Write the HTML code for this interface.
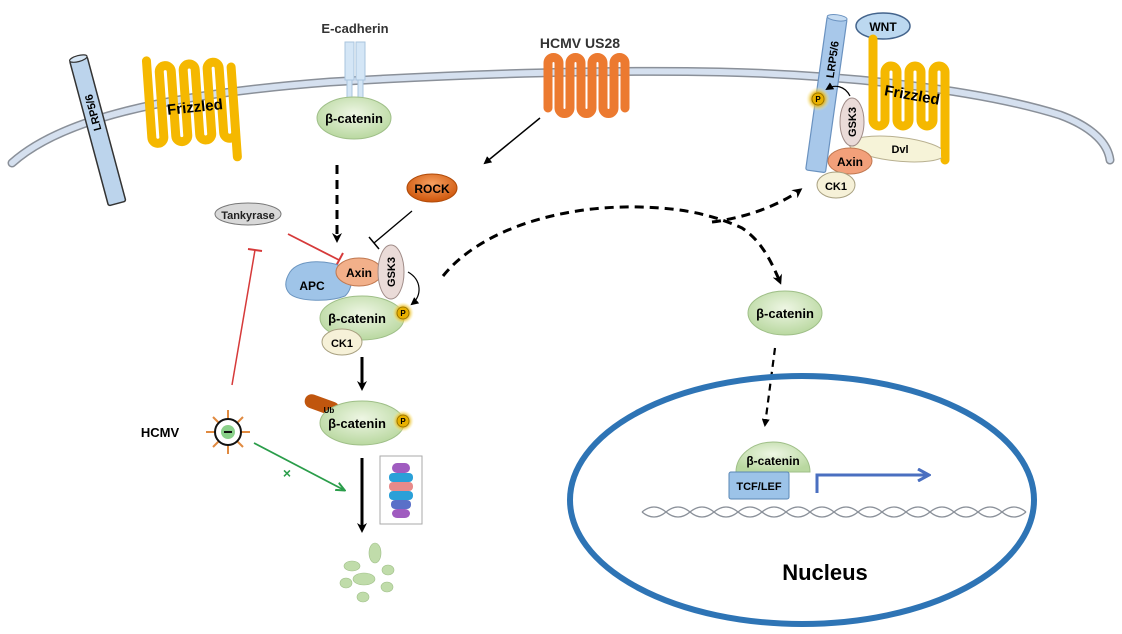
<!DOCTYPE html>
<html><head><meta charset="utf-8"><style>
html,body{margin:0;padding:0;background:#fff}
svg{display:block}
text{font-family:"Liberation Sans",sans-serif;font-weight:bold}
</style></head><body>
<svg width="1122" height="634" viewBox="0 0 1122 634" xmlns="http://www.w3.org/2000/svg">
<defs>
<marker id="ah" markerWidth="8" markerHeight="8" refX="6" refY="4" orient="auto" markerUnits="userSpaceOnUse"><path d="M0,0 L8,4 L0,8 Z" fill="#000"/></marker>
<marker id="ahs" markerWidth="10" markerHeight="10" refX="7" refY="5" orient="auto" markerUnits="userSpaceOnUse"><path d="M0,0 L10,5 L0,10 L3,5 Z" fill="#000"/></marker>
<marker id="ahg" markerWidth="10" markerHeight="10" refX="8" refY="5" orient="auto" markerUnits="userSpaceOnUse"><path d="M0,1 L9,5 L0,9" fill="none" stroke="#2a9d4a" stroke-width="2"/></marker>
<marker id="ahb" markerWidth="14" markerHeight="14" refX="11" refY="7" orient="auto" markerUnits="userSpaceOnUse"><path d="M1,1 L12,7 L1,13" fill="none" stroke="#4a6fc0" stroke-width="3"/></marker>
<radialGradient id="gG" cx="50%" cy="40%" r="60%"><stop offset="0" stop-color="#eef6e4"/><stop offset="1" stop-color="#b9d8a0"/></radialGradient>
<radialGradient id="gO" cx="50%" cy="35%" r="60%"><stop offset="0" stop-color="#f7a060"/><stop offset="1" stop-color="#d05a10"/></radialGradient>
<radialGradient id="gY" cx="50%" cy="50%" r="50%"><stop offset="0" stop-color="#f5d020"/><stop offset="0.5" stop-color="#e0a800"/><stop offset="1" stop-color="#fff3a0" stop-opacity="0"/></radialGradient>
</defs>

<!-- membrane -->
<path d="M12,163 C60,120 160,95 330,82 C500,72 620,70 720,72 C850,75 980,90 1060,115 C1095,128 1108,145 1110,160" fill="none" stroke="#8a9099" stroke-width="9" stroke-linecap="round"/>
<path d="M12,163 C60,120 160,95 330,82 C500,72 620,70 720,72 C850,75 980,90 1060,115 C1095,128 1108,145 1110,160" fill="none" stroke="#d5e0ef" stroke-width="6" stroke-linecap="round"/>

<!-- left LRP5/6 -->
<g transform="translate(98,132) rotate(-15)">
<rect x="-9" y="-76" width="18" height="150" fill="#bcd4ec" stroke="#333" stroke-width="1.5" rx="2"/>
<ellipse cx="0" cy="-76" rx="9" ry="3" fill="#d6e6f5" stroke="#333" stroke-width="1.2"/>
<text transform="rotate(-90)" x="20" y="4" font-size="11" text-anchor="middle">LRP5/6</text>
</g>

<!-- left Frizzled -->
<g transform="rotate(-4 190 110)">
<path d="M150,58 V135 A6,6 0 0 0 162,135 V70 A6,6 0 0 1 174,70 V135 A6,6 0 0 0 186,135 V70 A6,6 0 0 1 198,70 V135 A6,6 0 0 0 210,135 V70 A6,6 0 0 1 222,70 V135 A6,6 0 0 0 234,135 V70 V160" fill="none" stroke="#f5b800" stroke-width="9" stroke-linecap="round" stroke-linejoin="round"/>
</g>
<text x="195" y="112" font-size="15" text-anchor="middle" transform="rotate(-6 195 108)">Frizzled</text>

<!-- E-cadherin -->
<text x="355" y="33" font-size="13" text-anchor="middle" fill="#333">E-cadherin</text>
<rect x="345" y="42" width="9" height="38" fill="#d4e6f6" stroke="#a9c4de"/>
<rect x="356" y="42" width="9" height="38" fill="#d4e6f6" stroke="#a9c4de"/>
<rect x="347" y="80" width="5" height="20" fill="#d4e6f6" stroke="#a9c4de"/>
<rect x="358" y="80" width="5" height="20" fill="#d4e6f6" stroke="#a9c4de"/>
<ellipse cx="354" cy="118" rx="37" ry="21" fill="url(#gG)" stroke="#9fbf88"/>
<text x="354" y="123" font-size="13" text-anchor="middle">β-catenin</text>

<!-- HCMV US28 -->
<text x="580" y="48" font-size="14" text-anchor="middle" fill="#333">HCMV US28</text>
<path d="M548,108 V63 A5.5,5.5 0 0 1 559,63 V108 A5.5,5.5 0 0 0 570,108 V63 A5.5,5.5 0 0 1 581,63 V108 A5.5,5.5 0 0 0 592,108 V63 A5.5,5.5 0 0 1 603,63 V108 A5.5,5.5 0 0 0 614,108 V63 A5.5,5.5 0 0 1 625,63 V108" fill="none" stroke="#ec7a30" stroke-width="9" stroke-linecap="round" stroke-linejoin="round"/>
<line x1="540" y1="118" x2="485" y2="163" stroke="#000" stroke-width="1.5" marker-end="url(#ah)"/>
<ellipse cx="432" cy="188" rx="25" ry="14" fill="url(#gO)" stroke="#b04a08"/>
<text x="432" y="193" font-size="12" text-anchor="middle">ROCK</text>
<line x1="412" y1="211" x2="374" y2="243" stroke="#000" stroke-width="1.3"/>
<line x1="369" y1="237" x2="379" y2="249" stroke="#000" stroke-width="1.5"/>

<!-- Tankyrase -->
<ellipse cx="248" cy="214" rx="33" ry="11" fill="#d8d8d8" stroke="#777"/>
<text x="248" y="219" font-size="11" text-anchor="middle" fill="#222">Tankyrase</text>
<line x1="288" y1="234" x2="339" y2="260" stroke="#d63a3a" stroke-width="1.8"/>
<line x1="336" y1="266" x2="343" y2="253" stroke="#d63a3a" stroke-width="2"/>

<!-- dashed down -->
<line x1="337" y1="165" x2="337" y2="240" stroke="#000" stroke-width="3" stroke-dasharray="9,6" marker-end="url(#ahs)"/>

<!-- destruction complex -->
<path d="M290,272 C300,258 330,260 345,268 C355,275 352,290 345,296 C330,302 300,302 290,294 C284,288 285,280 290,272 Z" fill="#9fc4e8" stroke="#6b95c0"/>
<text x="312" y="290" font-size="12" text-anchor="middle">APC</text>
<ellipse cx="359" cy="272" rx="23" ry="14" fill="#f2b08a" stroke="#c07850"/>
<text x="359" y="277" font-size="12" text-anchor="middle">Axin</text>
<ellipse cx="391" cy="272" rx="13" ry="27" fill="#eadbd8" stroke="#a08c88"/>
<text x="391" y="276" font-size="11" text-anchor="middle" transform="rotate(-90 391 272)">GSK3</text>
<ellipse cx="362" cy="318" rx="42" ry="22" fill="url(#gG)" stroke="#9fbf88"/>
<text x="357" y="323" font-size="13" text-anchor="middle">β-catenin</text>
<circle cx="403" cy="313" r="11" fill="url(#gY)"/>
<circle cx="403" cy="313" r="6" fill="#e8b000" stroke="#8a6a00" stroke-width="0.8"/>
<text x="403" y="316" font-size="8" text-anchor="middle">P</text>
<ellipse cx="342" cy="342" rx="20" ry="13" fill="#f6f1d8" stroke="#a8a080"/>
<text x="342" y="347" font-size="11" text-anchor="middle">CK1</text>
<path d="M408,272 C422,280 422,296 412,304" fill="none" stroke="#000" stroke-width="1.2" marker-end="url(#ah)"/>

<line x1="362" y1="357" x2="362" y2="388" stroke="#000" stroke-width="3" marker-end="url(#ahs)"/>

<!-- Ub beta-catenin -->
<rect x="304" y="398" width="36" height="14" rx="7" fill="#c0560e" transform="rotate(20 322 405)"/>
<ellipse cx="362" cy="423" rx="42" ry="22" fill="url(#gG)" stroke="#9fbf88"/>
<text x="329" y="413" font-size="8" text-anchor="middle">Ub</text>
<text x="357" y="428" font-size="13" text-anchor="middle">β-catenin</text>
<circle cx="403" cy="421" r="11" fill="url(#gY)"/>
<circle cx="403" cy="421" r="6" fill="#e8b000" stroke="#8a6a00" stroke-width="0.8"/>
<text x="403" y="424" font-size="8" text-anchor="middle">P</text>

<line x1="362" y1="458" x2="362" y2="530" stroke="#000" stroke-width="3" marker-end="url(#ahs)"/>
<!-- proteasome -->
<rect x="380" y="456" width="42" height="68" fill="#fff" stroke="#aaa"/>
<rect x="392" y="463" width="18" height="10" rx="5" fill="#a05cc0"/>
<rect x="389" y="473" width="24" height="9" rx="4" fill="#2aa0d8"/>
<rect x="389" y="482" width="24" height="9" rx="4" fill="#e88a8a"/>
<rect x="389" y="491" width="24" height="9" rx="4" fill="#2aa0d8"/>
<rect x="391" y="500" width="20" height="9" rx="4" fill="#5a70c8"/>
<rect x="392" y="509" width="18" height="9" rx="5" fill="#a05cc0"/>

<!-- fragments -->
<g fill="#c0dcaa" stroke="#9fbf88" stroke-width="0.6">
<ellipse cx="375" cy="553" rx="6" ry="10"/>
<ellipse cx="352" cy="566" rx="8" ry="5"/>
<ellipse cx="364" cy="579" rx="11" ry="6"/>
<ellipse cx="388" cy="570" rx="6" ry="5"/>
<ellipse cx="346" cy="583" rx="6" ry="5"/>
<ellipse cx="387" cy="587" rx="6" ry="5"/>
<ellipse cx="363" cy="597" rx="6" ry="5"/>
</g>

<!-- HCMV -->
<text x="160" y="437" font-size="13" text-anchor="middle">HCMV</text>
<g stroke="#e08a40" stroke-width="2">
<line x1="228" y1="410" x2="228" y2="454"/><line x1="206" y1="432" x2="250" y2="432"/>
<line x1="213" y1="417" x2="243" y2="447"/><line x1="243" y1="417" x2="213" y2="447"/>
</g>
<circle cx="228" cy="432" r="13" fill="#fff" stroke="#111" stroke-width="2"/>
<circle cx="228" cy="432" r="7" fill="#8ad08a"/>
<line x1="224" y1="432" x2="232" y2="432" stroke="#111" stroke-width="2"/>
<line x1="232" y1="385" x2="255" y2="250" stroke="#d63a3a" stroke-width="1.5"/>
<line x1="248" y1="249" x2="262" y2="251" stroke="#d63a3a" stroke-width="2"/>
<line x1="254" y1="443" x2="344" y2="490" stroke="#2a9d4a" stroke-width="1.8" marker-end="url(#ahg)"/>
<text x="287" y="478" font-size="14" fill="#2a9d4a" text-anchor="middle">×</text>

<!-- big dashed curve -->
<path d="M443,276 C480,230 560,205 640,207 C690,208 720,218 742,228 C760,240 770,258 780,282" fill="none" stroke="#000" stroke-width="3" stroke-dasharray="9,6" marker-end="url(#ahs)"/>
<path d="M712,222 C745,218 780,205 800,190" fill="none" stroke="#000" stroke-width="3" stroke-dasharray="9,6" marker-end="url(#ahs)"/>

<!-- cytoplasm beta-catenin -->
<ellipse cx="785" cy="313" rx="37" ry="22" fill="url(#gG)" stroke="#9fbf88"/>
<text x="785" y="318" font-size="13" text-anchor="middle">β-catenin</text>
<line x1="775" y1="348" x2="765" y2="425" stroke="#000" stroke-width="2.2" stroke-dasharray="7,5" marker-end="url(#ah)"/>

<!-- nucleus -->
<ellipse cx="802" cy="500" rx="232" ry="124" fill="none" stroke="#2e74b5" stroke-width="6"/>
<path d="M736,472 A37,30 0 0 1 810,472 Z" fill="url(#gG)" stroke="#9fbf88"/>
<text x="773" y="465" font-size="12" text-anchor="middle">β-catenin</text>
<rect x="729" y="472" width="60" height="27" rx="2" fill="#9cc3e8" stroke="#5a87b5"/>
<text x="759" y="490" font-size="11" text-anchor="middle" font-weight="normal">TCF/LEF</text>
<path d="M642,512 Q654,502 666,512 T690,512 T714,512 T738,512 T762,512 T786,512 T810,512 T834,512 T858,512 T882,512 T906,512 T930,512 T954,512 T978,512 T1002,512 T1026,512" fill="none" stroke="#8a9099" stroke-width="1.3"/>
<path d="M642,512 Q654,522 666,512 T690,512 T714,512 T738,512 T762,512 T786,512 T810,512 T834,512 T858,512 T882,512 T906,512 T930,512 T954,512 T978,512 T1002,512 T1026,512" fill="none" stroke="#8a9099" stroke-width="1.3"/>
<path d="M817,493 V475 H928" fill="none" stroke="#4a6fc0" stroke-width="3" marker-end="url(#ahb)"/>
<text x="825" y="580" font-size="22" text-anchor="middle">Nucleus</text>

<!-- right complex -->
<g transform="translate(826,97) rotate(8)">
<rect x="-10" y="-80" width="20" height="155" fill="#a8c8ea" stroke="#6a92c0" stroke-width="1.2" rx="2"/>
<ellipse cx="0" cy="-80" rx="10" ry="3" fill="#c6dcf2" stroke="#6a92c0"/>
<text transform="rotate(-90)" x="38" y="5" font-size="11" text-anchor="middle">LRP5/6</text>
</g>
<ellipse cx="883" cy="26" rx="27" ry="13" fill="#bcd8f0" stroke="#44648c" stroke-width="1.5"/>
<text x="883" y="31" font-size="12" text-anchor="middle">WNT</text>
<path d="M873,39 V120 A6,6 0 0 0 885,120 V72 A6,6 0 0 1 897,72 V120 A6,6 0 0 0 909,120 V72 A6,6 0 0 1 921,72 V120 A6,6 0 0 0 933,120 V72 A6,6 0 0 1 945,72 V160" fill="none" stroke="#f5b800" stroke-width="9" stroke-linecap="round" stroke-linejoin="round"/>
<text x="912" y="100" font-size="15" text-anchor="middle" transform="rotate(10 912 96)">Frizzled</text>
<ellipse cx="897" cy="149" rx="48" ry="12" fill="#f6f3d8" stroke="#b8b090" transform="rotate(6 897 149)"/>
<text x="900" y="153" font-size="11" text-anchor="middle">Dvl</text>
<rect x="941" y="90" width="8" height="70" rx="4" fill="#f5b800"/>
<ellipse cx="852" cy="122" rx="12" ry="24" fill="#eadbd8" stroke="#a08c88"/>
<text x="852" y="126" font-size="11" text-anchor="middle" transform="rotate(-90 852 122)">GSK3</text>
<ellipse cx="850" cy="161" rx="22" ry="13" fill="#f2a07a" stroke="#c07850"/>
<text x="850" y="166" font-size="12" text-anchor="middle">Axin</text>
<ellipse cx="836" cy="185" rx="19" ry="13" fill="#f6f1d8" stroke="#a8a080"/>
<text x="836" y="190" font-size="11" text-anchor="middle">CK1</text>
<circle cx="818" cy="99" r="12" fill="url(#gY)"/>
<circle cx="818" cy="99" r="6" fill="#e8b000" stroke="#8a6a00" stroke-width="0.8"/>
<text x="818" y="102" font-size="8" text-anchor="middle">P</text>
<path d="M850,96 C845,86 835,84 827,89" fill="none" stroke="#000" stroke-width="1.2" marker-end="url(#ah)"/>
</svg>
</body></html>
